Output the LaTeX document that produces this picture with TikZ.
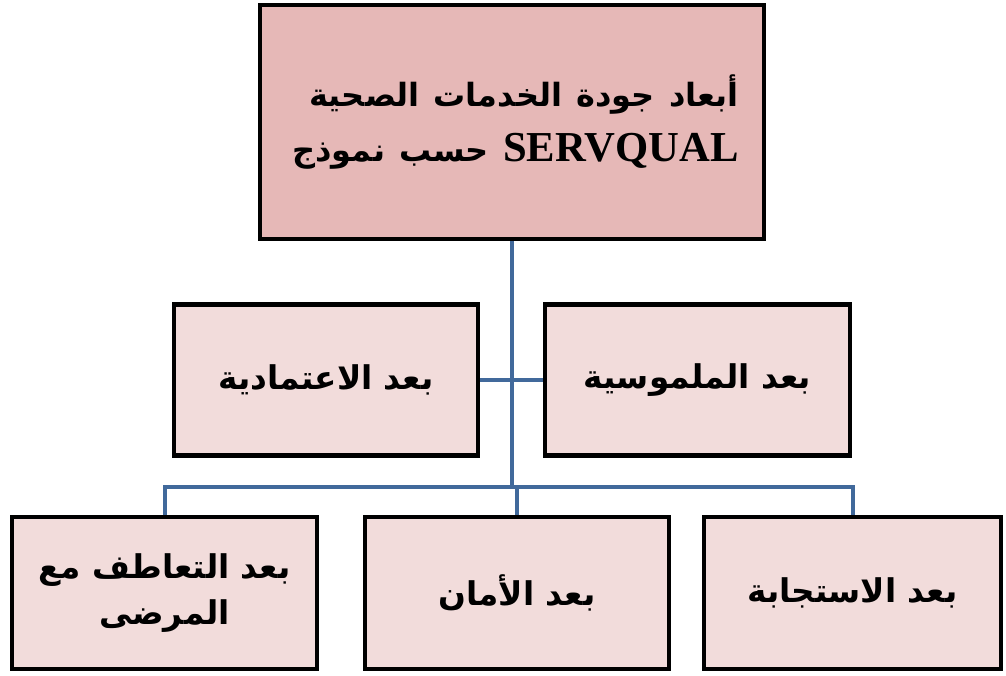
\documentclass[tikz,border=0pt]{standalone}
\usepackage{fontspec}
\setmainfont{Liberation Serif}
\newfontfamily\arabicfont[Script=Arabic]{DejaVu Sans}
\TeXXeTstate=1
\usetikzlibrary{backgrounds}
\definecolor{topfill}{HTML}{E6B8B7}
\definecolor{boxfill}{HTML}{F2DCDB}
\definecolor{linkblue}{RGB}{65,105,155}
\begin{document}
\begin{tikzpicture}[x=0.75pt,y=-0.75pt,
  box/.style={draw=black,line width=3.5pt,fill=boxfill,inner sep=0pt,
    minimum height=113pt,align=center,
    font=\arabicfont\bfseries\fontsize{24.5}{34}\selectfont},
  link/.style={draw=linkblue,line width=3pt}]
\useasboundingbox (0,0) rectangle (1006,675);
\node[box,fill=topfill,minimum width=378pt,minimum height=175.5pt,
  text width=340pt,align=right,font=\bfseries\fontsize{32}{41}\selectfont] (top) at (512,122)
  {{\arabicfont\fontsize{24}{41}\selectfont\beginR أبعاد جودة الخدمات الصحية\endR}\\
   \beginR\beginL SERVQUAL\endL{} {\arabicfont\fontsize{24}{41}\selectfont حسب نموذج}\endR};
\node[box,minimum width=228pt] (midL) at (326,380) {\beginR بعد الاعتمادية\endR};
\node[box,minimum width=228.75pt] (midR) at (697.5,380) {\beginR بعد الملموسية\endR};
\node[box,minimum width=228.75pt,minimum height=114pt] (botL) at (164.5,593)
  {\beginR بعد التعاطف مع\endR\\\beginR المرضى\endR};
\node[box,minimum width=228pt,minimum height=114pt] (botM) at (517,593) {\beginR بعد الأمان\endR};
\node[box,minimum width=222.75pt,minimum height=114pt] (botR) at (852.5,593) {\beginR بعد الاستجابة\endR};
\coordinate (hub) at (512,487);
\begin{scope}[on background layer]
  \draw[link] (top.south) -- (hub);
  \draw[link] (midL.east) -- (midR.west);
  \draw[link] (botL.north) |- (hub) -| (botR.north);
  \draw[link] (botM.north) -- (botM.north |- hub);
\end{scope}
\end{tikzpicture}
\end{document}
